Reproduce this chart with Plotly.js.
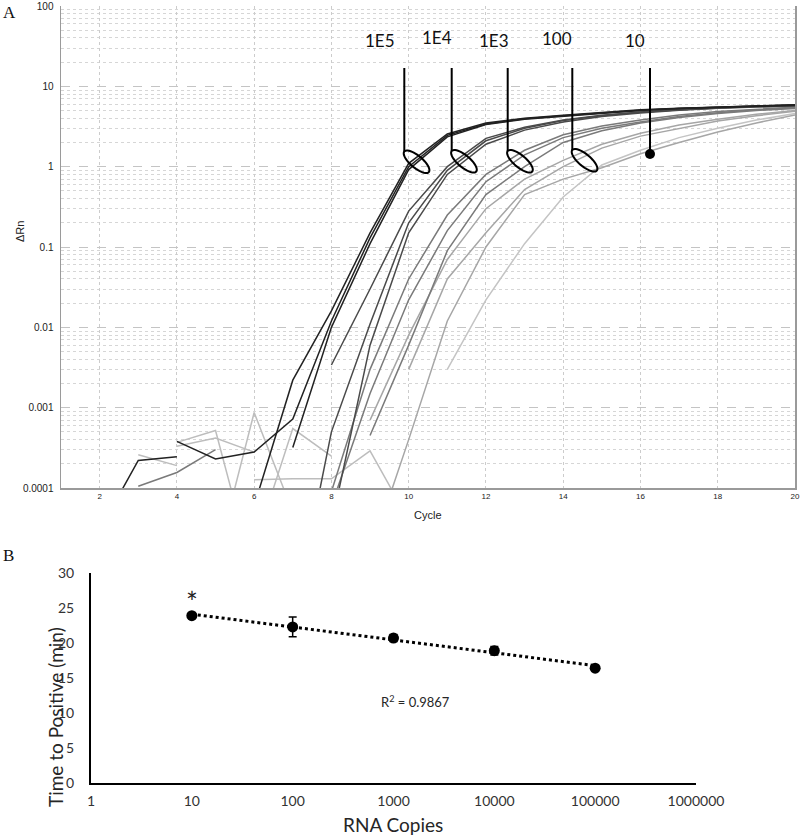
<!DOCTYPE html>
<html><head><meta charset="utf-8">
<script src="https://cdn.plot.ly/plotly-3.0.1.min.js"></script>
<style>body{margin:0;background:#fff}#chart{width:800px;height:835px}</style>
</head><body><div id="chart"></div>
<script>
// ---------- Panel A data: ΔRn per cycle (index 0 = cycle 1) ----------
const cycles = [1,2,3,4,5,6,7,8,9,10,11,12,13,14,15,16,17,18,19,20];
const _ = null;
// 1E5 copies
const e5_a = [_,_,_,_,_,0.00006,0.0022,0.016,0.15,1.1,2.55,3.5,4.0,4.35,4.75,5.1,5.35,5.55,5.75,5.9];
const e5_b = [_,_,_,0.00038,0.00023,0.00028,0.00072,0.012,0.13,1.0,2.45,3.4,3.95,4.3,4.7,5.05,5.3,5.5,5.7,5.85];
const e5_c = [_,_,_,_,_,_,0.00032,0.01,0.11,0.92,2.35,3.35,3.9,4.25,4.65,5.0,5.28,5.5,5.68,5.82];
const e5_noise = [_,0.00003,0.00022,0.000245,_,_,_,_,_,_,_,_,_,_,_,_,_,_,_,_];
// 1E4 copies
const e4_a = [_,_,_,_,_,_,0.000002,0.0005,0.011,0.2,0.9,2.1,3.0,3.75,4.3,4.75,5.1,5.4,5.6,5.75];
const e4_b = [_,_,_,_,_,_,_,0.000035,0.006,0.15,0.8,1.9,2.85,3.6,4.2,4.65,5.05,5.35,5.55,5.7];
const e4_c = [_,_,_,_,_,_,_,0.0034,0.03,0.28,1.0,2.25,3.1,3.8,4.35,4.8,5.15,5.42,5.62,5.78];
// 1E3 copies
const e3_a = [_,_,_,_,_,_,_,0.00006,0.0015,0.022,0.16,0.65,1.4,2.3,3.0,3.6,4.2,4.7,5.1,5.4];
const e3_b = [_,_,_,_,_,_,_,0.00009,0.003,0.04,0.25,0.8,1.6,2.5,3.2,3.8,4.4,4.85,5.2,5.5];
const e3_c = [_,_,_,_,_,_,_,_,0.00045,0.006,0.09,0.45,1.0,2.0,2.8,3.5,4.1,4.6,5.0,5.3];
const e3_noise = [_,_,0.000105,0.000156,0.0003,_,_,_,_,_,_,_,_,_,_,_,_,_,_,_];
// 100 copies
const e2_a = [_,_,_,_,_,_,_,_,_,0.003,0.04,0.15,0.52,1.0,1.7,2.4,3.0,3.7,4.3,4.9];
const e2_b = [_,_,_,_,_,_,_,_,0.000015,0.0004,0.012,0.1,0.45,0.7,0.97,1.45,2.0,2.7,3.5,4.4];
const e2_c = [_,_,_,_,_,_,_,_,0.0007,0.008,0.07,0.3,0.7,1.2,1.9,2.6,3.3,3.9,4.5,5.0];
// 10 copies
const e1_a = [_,_,_,_,_,_,_,_,_,_,0.003,0.022,0.11,0.42,1.05,1.6,2.3,3.0,3.8,4.6];
// background noise traces
const noise_1 = [_,_,0.00026,0.00019,_,_,_,_,_,_,_,_,_,_,_,_,_,_,_,_];
const noise_2 = [_,_,_,0.00037,0.00052,0.000008,_,_,_,_,_,_,_,_,_,_,_,_,_,_];
const noise_3 = [_,_,_,0.00033,0.00042,0.00028,_,_,_,_,_,_,_,_,_,_,_,_,_,_];
const noise_4 = [_,_,_,_,0.0000115,0.00087,0.00005,_,_,_,_,_,_,_,_,_,_,_,_,_];
const noise_5 = [_,_,_,_,_,0.000127,0.00013,0.00013,0.00029,0.00004,_,_,_,_,_,_,_,_,_,_];
const noise_6 = [_,_,_,_,_,0.000018,0.00055,0.00025,_,_,_,_,_,_,_,_,_,_,_,_];

const yTickVals = [0.0001,0.001,0.01,0.1,1,10,100];
const yTickText = ['0.0001','0.001','0.01','0.1','1','10','100'];
const xTickVals = [2,4,6,8,10,12,14,16,18,20];

// ---------- Panel B data ----------
const rnaCopies = [10,100,1000,10000,100000];
const timeToPositive = [23.9,22.3,20.7,18.9,16.4];
const ttpError = [0.3,1.4,0.5,0.6,0.2];
const bTickVals = [1,10,100,1000,10000,100000,1000000];
const bTickText = ['1','10','100','1000','10000','100000','1000000'];
const rSquaredText = 'R<sup>2</sup> = 0.9867';
const dilutionLabels = ['1E5','1E4','1E3','100','10'];

// ---------- build traces ----------
const groups = [
  {color:'#222222', curves:[e5_a,e5_b,e5_c,e5_noise]},
  {color:'#4a4a4a', curves:[e4_a,e4_b,e4_c]},
  {color:'#7a7a7a', curves:[e3_a,e3_b,e3_c,e3_noise]},
  {color:'#a6a6a6', curves:[e2_a,e2_b,e2_c]},
  {color:'#c4c4c4', curves:[e1_a]},
  {color:'#bdbdbd', curves:[noise_1,noise_2,noise_3,noise_4,noise_5,noise_6]}
];
const traces = [];
groups.slice().reverse().forEach(g => {
  g.curves.forEach(c => {
    traces.push({x:cycles, y:c, xaxis:'x', yaxis:'y', type:'scatter', mode:'lines',
      line:{color:g.color, width:1.5}, hoverinfo:'skip', showlegend:false, connectgaps:false});
  });
});

// trend line (least squares in log10 x)
const lx = rnaCopies.map(v => Math.log10(v));
const n = lx.length;
const mx = lx.reduce((a,b)=>a+b,0)/n, my = timeToPositive.reduce((a,b)=>a+b,0)/n;
let sxy=0, sxx=0;
for (let i=0;i<n;i++){ sxy += (lx[i]-mx)*(timeToPositive[i]-my); sxx += (lx[i]-mx)**2; }
const slope = sxy/sxx, icpt = my - slope*mx;
const trendX = [rnaCopies[0], rnaCopies[n-1]];
const trendY = trendX.map(v => icpt + slope*Math.log10(v));
traces.push({x:trendX, y:trendY, xaxis:'x2', yaxis:'y2', type:'scatter', mode:'lines',
  line:{color:'#000', width:3, dash:'dot'}, hoverinfo:'skip', showlegend:false});
traces.push({x:rnaCopies, y:timeToPositive, xaxis:'x2', yaxis:'y2', type:'scatter', mode:'markers',
  marker:{color:'#000', size:11},
  error_y:{type:'data', array:ttpError, visible:true, color:'#000', thickness:1.5, width:4},
  hoverinfo:'skip', showlegend:false});

// ---------- layout helpers (pixel -> paper) ----------
const W=800, H=835;
const px = x => x/W, py = y => 1 - y/H;

// minor grid values for log axis
const minorVals = [];
for (let e=-4; e<2; e++) for (let d=2; d<=9; d++) minorVals.push(d*Math.pow(10,e));

const shapes = [];
const annotations = [];
// pointer lines + ellipses
const markerPos = [
  {lx:404.3, top:68, vy:151.5, kind:'ellipse', tx:380, ty:40},
  {lx:451.7, top:68, vy:151.0, kind:'ellipse', tx:437, ty:37.5},
  {lx:507.7, top:68, vy:151.0, kind:'ellipse', tx:494, ty:40},
  {lx:572.3, top:68, vy:150.0, kind:'ellipse', tx:557, ty:38.5},
  {lx:650.0, top:68, vy:154.0, kind:'dot', tx:635, ty:41}
];
const th = 40*Math.PI/180, ea = 16, eb = 6;
markerPos.forEach((m,i) => {
  shapes.push({type:'line', xref:'paper', yref:'paper', x0:px(m.lx), x1:px(m.lx), y0:py(m.top), y1:py(m.vy),
    line:{color:'#000', width:2}});
  if (m.kind === 'ellipse') {
    const cx = m.lx + ea*Math.cos(th), cy = m.vy + ea*Math.sin(th);
    let p = '';
    for (let k=0;k<=48;k++){
      const t = 2*Math.PI*k/48;
      const X = cx + ea*Math.cos(t)*Math.cos(th) - eb*Math.sin(t)*Math.sin(th);
      const Y = cy + ea*Math.cos(t)*Math.sin(th) + eb*Math.sin(t)*Math.cos(th);
      p += (k===0?'M ':' L ') + px(X).toFixed(5) + ' ' + py(Y).toFixed(5);
    }
    p += ' Z';
    shapes.push({type:'path', xref:'paper', yref:'paper', path:p, line:{color:'#000', width:2}});
  } else {
    shapes.push({type:'circle', xref:'paper', yref:'paper', x0:px(m.lx-5), x1:px(m.lx+5), y0:py(m.vy+5), y1:py(m.vy-5),
      fillcolor:'#000', line:{color:'#000', width:0}});
  }
  annotations.push({xref:'paper', yref:'paper', x:px(m.tx), y:py(m.ty), text:dilutionLabels[i], showarrow:false,
    xanchor:'center', yanchor:'middle', font:{family:'Lato, Open Sans, sans-serif', size:17, color:'#111'}});
});

// panel letters and axis titles
annotations.push({xref:'paper', yref:'paper', x:px(9), y:py(12), text:'A', showarrow:false, xanchor:'center', yanchor:'middle',
  font:{family:'Liberation Serif, serif', size:17, color:'#111'}});
annotations.push({xref:'paper', yref:'paper', x:px(8), y:py(555), text:'B', showarrow:false, xanchor:'center', yanchor:'middle',
  font:{family:'Liberation Serif, serif', size:17, color:'#111'}});
annotations.push({xref:'paper', yref:'paper', x:px(20), y:py(232), text:'ΔRn', textangle:-90, showarrow:false,
  xanchor:'center', yanchor:'middle', font:{family:'Liberation Sans, Arial, sans-serif', size:11, color:'#222'}});
annotations.push({xref:'paper', yref:'paper', x:px(428), y:py(515), text:'Cycle', showarrow:false,
  xanchor:'center', yanchor:'middle', font:{family:'Liberation Sans, Arial, sans-serif', size:11, color:'#222'}});
annotations.push({xref:'paper', yref:'paper', x:px(55), y:py(717), text:'Time to Positive (min)', textangle:-90, showarrow:false,
  xanchor:'center', yanchor:'middle', font:{family:'Lato, sans-serif', size:19, color:'#262626'}});
annotations.push({xref:'paper', yref:'paper', x:px(393), y:py(824), text:'RNA Copies', showarrow:false,
  xanchor:'center', yanchor:'middle', font:{family:'Lato, sans-serif', size:19, color:'#262626'}});
annotations.push({xref:'paper', yref:'paper', x:px(415), y:py(701), text:rSquaredText, showarrow:false,
  xanchor:'center', yanchor:'middle', font:{family:'Lato, sans-serif', size:13, color:'#262626'}});
annotations.push({xref:'x2', yref:'y2', x:Math.log10(rnaCopies[0]), y:25.9, text:'*', showarrow:false,
  xanchor:'center', yanchor:'middle', font:{family:'Lato, sans-serif', size:28, color:'#222'}});

const layout = {
  width:W, height:H, margin:{l:0,r:0,t:0,b:0},
  paper_bgcolor:'#fff', plot_bgcolor:'#fff', showlegend:false,
  xaxis:{domain:[px(61), px(795)], range:[1,20], tickmode:'array', tickvals:xTickVals,
    showgrid:true, gridcolor:'#cccccc', griddash:'dot', gridwidth:1,
    showline:true, linecolor:'#9a9a9a', linewidth:1.5, zeroline:false, ticks:'',
    tickfont:{family:'Liberation Sans, Arial, sans-serif', size:8, color:'#222'}, anchor:'y', fixedrange:true},
  yaxis:{domain:[py(488), py(6)], type:'log', range:[-4,2], tickmode:'array', tickvals:yTickVals, ticktext:yTickText,
    showgrid:true, gridcolor:'#c4c4c4', griddash:'dash', gridwidth:1,
    minor:{tickmode:'array', tickvals:minorVals, showgrid:true, gridcolor:'#d6d6d6', griddash:'dot', gridwidth:1, ticks:''},
    showline:true, mirror:true, linecolor:'#9a9a9a', linewidth:1.5, zeroline:false, ticks:'',
    ticklabelstandoff:4,
    tickfont:{family:'Liberation Sans, Arial, sans-serif', size:10, color:'#222'}, anchor:'x', fixedrange:true},
  xaxis2:{domain:[px(91), px(696)], type:'log', range:[0,6], tickmode:'array', tickvals:bTickVals, ticktext:bTickText,
    showgrid:false, showline:true, linecolor:'#000', linewidth:2, zeroline:false, ticks:'',
    ticklabelstandoff:4,
    tickfont:{family:'Lato, sans-serif', size:14, color:'#333'}, anchor:'y2', fixedrange:true},
  yaxis2:{domain:[py(783), py(573)], range:[0,30], dtick:5, tick0:0,
    showgrid:false, showline:true, linecolor:'#000', linewidth:2, zeroline:false, ticks:'',
    ticklabelstandoff:12,
    tickfont:{family:'Lato, sans-serif', size:14, color:'#333'}, anchor:'x2', fixedrange:true},
  shapes:shapes, annotations:annotations
};
Plotly.newPlot('chart', traces, layout, {staticPlot:true, displayModeBar:false});
</script>
</body></html>
